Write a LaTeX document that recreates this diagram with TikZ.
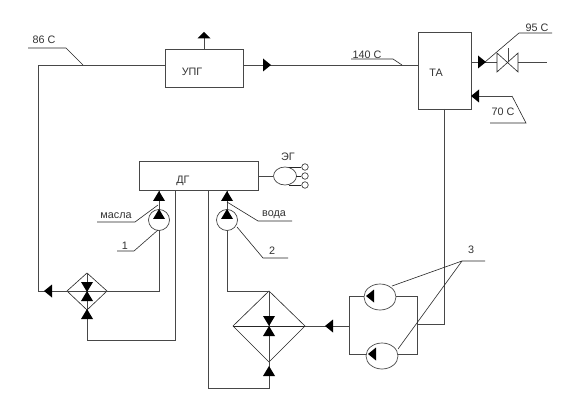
\documentclass[tikz,border=0pt]{standalone}
\usepackage{fontspec}
\usetikzlibrary{shapes.geometric}
\setmainfont{Liberation Sans}
\begin{document}
\begin{tikzpicture}[x=1pt,y=-1pt,
  ln/.style={draw=black!72,line width=0.85pt},
  thinln/.style={draw=black!85,line width=0.6pt},
  lab/.style={font=\fontsize{10.8}{11}\selectfont,text=black!80,inner sep=0pt},
  box/.style={draw=black!72,line width=0.85pt,fill=white,inner sep=0pt,anchor=north west},
  pumpc/.style={circle,draw=black!72,line width=0.7pt,fill=white,minimum size=21pt,inner sep=0pt},
  pumpe/.style={ellipse,draw=black!72,line width=0.7pt,fill=white,inner sep=0pt,minimum width=32pt,minimum height=26pt}]
\useasboundingbox (0,0) rectangle (561,411);
\fill[white] (0,0) rectangle (561,411);
\newcommand{\triU}[2]{\fill[black] (#1-6,#2+5) -- (#1,#2-5) -- (#1+6,#2+5) -- cycle;}
\newcommand{\triD}[2]{\fill[black] (#1-6,#2-5) -- (#1,#2+5) -- (#1+6,#2-5) -- cycle;}
\newcommand{\triR}[2]{\fill[black] (#1-4,#2-6.5) -- (#1+4,#2) -- (#1-4,#2+6.5) -- cycle;}
\newcommand{\triL}[2]{\fill[black] (#1+4,#2-6.5) -- (#1-4,#2) -- (#1+4,#2+6.5) -- cycle;}
% boxes
\node[box,minimum width=78pt,minimum height=38pt] (upg) at (165,49) {};
\node[lab] (upgt) at (192,72) {УПГ};
\node[box,minimum width=53pt,minimum height=77pt] (ta) at (418,32) {};
\node[lab] (tat) at (436,73) {ТА};
\node[box,minimum width=119pt,minimum height=29pt] (dg) at (139,161) {};
\node[lab] (dgt) at (183,181) {ДГ};
% junction coordinates
\coordinate (upgW) at (165,65);
\coordinate (upgE) at (243,65);
\coordinate (taW) at (418,65);
\coordinate (c1) at (38,65);
\coordinate (c2) at (38,291);
\coordinate (upgT) at (204,49);
\coordinate (vent) at (204,36);
% main lines
\draw[ln] (upgW) -- (c1) -- (c2) -- (67,291);
\draw[ln] (upgE) -- (taW);
\draw[ln] (upgT) -- (vent);
\fill[black] (197.5,38.5) -- (204,32) -- (210.5,38.5) -- cycle;
\triR{267}{65}
% 86 C
\draw[thinln] (28,48) -- (66,48) -- (83,65);
\node[lab] (t86) at (44,40) {86 С};
% 140 C
\draw[thinln] (351,59) -- (393,59) -- (402,65);
\node[lab] (t140) at (367,55) {140 С};
% TA outputs
\coordinate (taE) at (471,62);
\coordinate (out) at (547,62);
\draw[ln] (taE) -- (497,62);
\draw[ln] (518,62) -- (out);
\triR{482}{62}
\draw[thinln] (497,53) -- (518,72) -- (518,53) -- (497,72) -- cycle;
\draw[ln] (508,48) -- (508,62);
\draw[thinln] (485,62) -- (519,33) -- (552,33);
\node[lab] (t95) at (537,28) {95 С};
\coordinate (taE2) at (471,96);
\draw[ln] (taE2) -- (512,96);
\triL{475}{96}
\draw[thinln] (512,96) -- (526,123) -- (490,123);
\node[lab] (t70) at (503,112) {70 С};
% right vertical and pumps 3
\coordinate (taS) at (444,109);
\draw[ln] (taS) -- (444,324) -- (417,324);
\draw[ln] (417,296) -- (417,354) -- (349,354) -- (349,296) -- cycle;
\node[pumpe] (p3a) at (380,297) {};
\node[pumpe] (p3b) at (382,356) {};
\triL{370}{296}
\triL{372}{354}
\coordinate (apex) at (462,261);
\draw[thinln] (392,286) -- (apex) -- (485,261);
\draw[thinln] (398,349) -- (apex);
\node[lab] (t3) at (471,250) {3};
% big heat exchanger
\draw[ln] (349,326) -- (305,326);
\triL{329}{326}
\draw[thinln] (269,291) -- (305,326) -- (269,362) -- (233,326) -- cycle;
\draw[thinln] (233,326) -- (305,326);
\draw[ln] (269,291) -- (269,388) -- (208,388) -- (208,190);
\draw[ln] (269,291) -- (227,291) -- (227,190);
\triD{269}{321}
\triU{269}{331}
\triU{269}{371}
% small heat exchanger
\draw[thinln] (87,273) -- (107,291) -- (87,310) -- (67,291) -- cycle;
\draw[ln] (67,291) -- (159,291) -- (159,190);
\draw[ln] (87,273) -- (87,340) -- (175,340) -- (175,190);
\triD{87}{287}
\triU{87}{296}
\triU{87}{314}
\triL{48}{291}
% pumps
\node[pumpc] (p1) at (159,220) {};
\node[pumpc] (p2) at (227,220) {};
\draw[ln] (dg.south -| p1) -- (p1.north);
\draw[ln] (dg.south -| p2) -- (p2.north);
\triU{159}{214}
\triU{227}{214}
\triU{159}{196}
\triU{227}{196}
\draw[thinln] (158,205) -- (135,222) -- (97,222);
\node[lab] (tm) at (116,216) {масла};
\draw[thinln] (227,202) -- (258,221) -- (292,221);
\node[lab] (tv) at (274,215) {вода};
\draw[thinln] (158,230) -- (134,251) -- (117,251);
\node[lab] (t1) at (125,246) {1};
\draw[thinln] (237,227) -- (263,258) -- (288,258);
\node[lab] (t2) at (272,251) {2};
% generator
\node[pumpe,minimum width=23pt,minimum height=18pt] (eg) at (285,176) {};
\draw[ln] (258,176) -- (eg.west);
\node[lab] (teg) at (288,157) {ЭГ};
\foreach \yy/\nn in {167/a,176/b,185/c} {
  \node[circle,draw=black!75,line width=0.7pt,fill=white,minimum size=6.5pt,inner sep=0pt] (o\nn) at (305,\yy) {};
}
\draw[thinln] (289,167) -- (oa.west);
\draw[thinln] (296,176) -- (ob.west);
\draw[thinln] (289,185) -- (oc.west);
\end{tikzpicture}
\end{document}
